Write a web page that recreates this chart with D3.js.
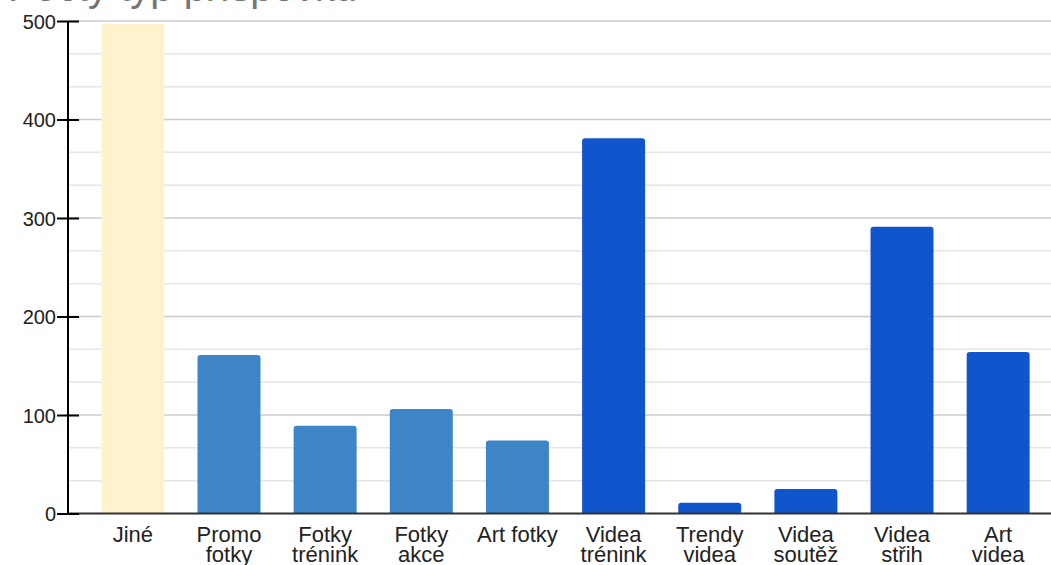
<!DOCTYPE html>
<html>
<head>
<meta charset="utf-8">
<style>
  body { margin: 0; background: #fff; }
  svg { display: block; font-family: 'Liberation Sans', Arial, sans-serif; }
  .y .domain { display: none; }
  .y .tick line { stroke: #000; stroke-width: 2px; }
  .y .tick text { font-size: 20px; fill: #222; }
</style>
</head>
<body>
<svg width="1051" height="565"></svg>
<script src="https://d3js.org/d3.v7.min.js"></script>
<script>
const title = "Počty typ příspěvků";
const categories = ["Jiné", "Promo fotky", "Fotky trénink", "Fotky akce", "Art fotky",
  "Videa trénink", "Trendy videa", "Videa soutěž", "Videa střih", "Art videa"];
const labelLines = [["Jiné"], ["Promo", "fotky"], ["Fotky", "trénink"], ["Fotky", "akce"], ["Art fotky"],
  ["Videa", "trénink"], ["Trendy", "videa"], ["Videa", "soutěž"], ["Videa", "střih"], ["Art", "videa"]];
const values = [497, 161, 89, 106, 74, 381, 11, 25, 291, 164];
const groups = ["jine", "fotky", "fotky", "fotky", "fotky", "videa", "videa", "videa", "videa", "videa"];
const yTicks = [0, 100, 200, 300, 400, 500];

const colors = { jine: "#fff2cc", fotky: "#3d85c6", videa: "#1155cc" };

const svg = d3.select("svg");
const axisX = 68, right = 1051;

const x = d3.scaleBand()
  .domain(categories)
  .range([85, 1046])
  .paddingInner(0.345)
  .paddingOuter(0.17);

const y = d3.scaleLinear()
  .domain([0, 500])
  .range([513.5, 21]);

// minor gridlines (thirds)
const minor = d3.range(0, 500, 100 / 3).filter((d, i) => i % 3 != 0);
svg.append("g").selectAll("line")
  .data(minor)
  .join("line")
  .attr("x1", axisX).attr("x2", right)
  .attr("y1", d => y(d)).attr("y2", d => y(d))
  .style("stroke", "#e6e6e6")
  .style("stroke-width", "1.5px");

svg.append("g").selectAll("line")
  .data(yTicks.slice(1))
  .join("line")
  .attr("x1", axisX).attr("x2", right)
  .attr("y1", d => y(d)).attr("y2", d => y(d))
  .style("stroke", "#cccccc")
  .style("stroke-width", "1.5px");

// bars with rounded tops
function barPath(x0, w, yTop, yBot, r) {
  r = Math.min(r, (yBot - yTop) / 2, w / 2);
  return `M${x0},${yBot}V${yTop + r}Q${x0},${yTop} ${x0 + r},${yTop}H${x0 + w - r}Q${x0 + w},${yTop} ${x0 + w},${yTop + r}V${yBot}Z`;
}

svg.append("g").selectAll("path")
  .data(categories)
  .join("path")
  .attr("d", (d, i) => barPath(x(d), x.bandwidth(), y(values[i]), y(0), 3))
  .style("fill", (d, i) => colors[groups[i]]);

// baseline
svg.append("line")
  .attr("x1", axisX).attr("x2", right)
  .attr("y1", y(0)).attr("y2", y(0))
  .style("stroke", "#333")
  .style("stroke-width", "2px");

// y axis
const yAxis = svg.append("g")
  .attr("class", "y axis")
  .attr("transform", `translate(${axisX + 11},0)`)
  .call(d3.axisLeft(y).tickValues(yTicks).tickSize(22).tickPadding(1).tickFormat(d3.format("d")));
yAxis.selectAll(".tick text").attr("dy", "0.35em");

svg.append("line")
  .attr("x1", axisX).attr("x2", axisX)
  .attr("y1", y(500)).attr("y2", y(0))
  .style("stroke", "#000")
  .style("stroke-width", "2px");

// x labels
const xl = svg.append("g").selectAll("text")
  .data(categories)
  .join("text")
  .attr("x", d => x(d) + x.bandwidth() / 2)
  .attr("y", 542)
  .attr("text-anchor", "middle")
  .style("font-size", "22px")
  .style("fill", "#222");
xl.selectAll("tspan")
  .data((d, i) => labelLines[i])
  .join("tspan")
  .attr("x", function () { return this.parentNode.getAttribute("x"); })
  .attr("dy", (d, j) => j == 0 ? 0 : 20)
  .text(d => d);

// title, cut off by the top edge
svg.append("text")
  .attr("x", 8)
  .attr("y", 1)
  .style("font-size", "40px")
  .style("fill", "#757575")
  .text(title);
</script>
</body>
</html>
